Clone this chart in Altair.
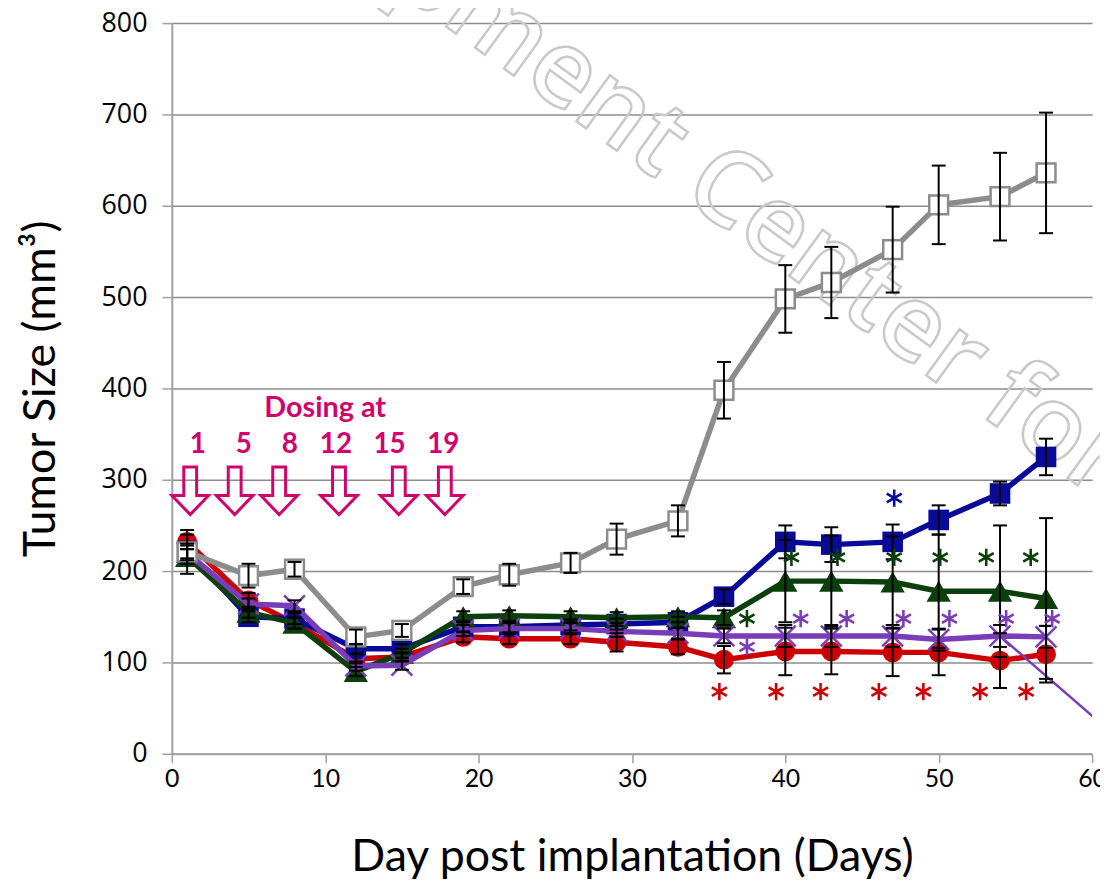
import altair as alt
import pandas as pd

# ---------------- data ----------------
days = [1, 5, 8, 12, 15, 19, 22, 26, 29, 33, 36, 40, 43, 47, 50, 54, 57]

gray_vals = [221, 195, 202, 128, 135, 183, 196, 209, 235, 255, 398, 498, 516, 552, 601, 610, 636]
gray_err = [24, 13, 8, 8, 7, 8, 12, 11, 17, 17, 31, 37, 39, 47, 43, 48, 66]

blue_vals = [222, 150, 148, 115, 115, 139, 139, 141, 142, 144, 172, 232, 229, 232, 256, 285, 325]
blue_err = [8, 6, 6, 5, 5, 6, 6, 6, 6, 6, 8, 18, 19, 19, 16, 13, 20]

green_vals = [216, 155, 143, 90, 110, 150, 151, 150, 149, 150, 149, 189, 189, 188, 178, 178, 170]
green_err = [8, 6, 6, 5, 5, 6, 6, 6, 6, 6, 8, 45, 50, 50, 62, 72, 88]

purple_vals = [220, 164, 162, 96, 97, 135, 137, 137, 134, 132, 129, 129, 129, 129, 125, 129, 128]
purple_err = [8, 6, 6, 5, 5, 6, 6, 6, 6, 6, 8, 12, 12, 12, 12, 12, 12]

red_vals = [232, 168, 143, 104, 106, 128, 126, 126, 122, 117, 103, 112, 112, 111, 111, 102, 109]
red_err = [8, 8, 6, 5, 5, 6, 6, 6, 10, 8, 15, 26, 25, 26, 25, 30, 31]

# stray purple line leaving the last purple points
purple_tail_days = [54, 61]
purple_tail_vals = [129, 27]

# significance asterisks
red_star_days = [35.7, 39.4, 42.3, 46.1, 49.0, 52.7, 55.7]
red_star_vals = [68, 68, 68, 68, 68, 68, 68]
green_star_days = [37.5, 40.4, 43.4, 47.1, 50.1, 53.1, 56.0]
green_star_vals = [148, 215, 215, 215, 215, 215, 215]
purple_star_days = [37.5, 41.0, 44.0, 47.7, 50.7, 54.4, 57.4]
purple_star_vals = [117, 148, 148, 148, 148, 148, 148]
blue_star_days = [47.1]
blue_star_vals = [280]

# dosing annotation
dose_labels = ["1", "5", "8", "12", "15", "19"]
dose_label_days = [1.7, 4.7, 7.7, 10.7, 14.2, 17.7]
dose_label_val = 338
dose_arrow_days = [1.2, 4.1, 7.0, 10.9, 14.8, 17.8]
dose_arrow_val = 288
dose_title = "Dosing at"
dose_title_day = 10.0
dose_title_val = 379

watermark_text = "pment Center for"

# ---------------- styles ----------------
GRAY = "#8c8c8c"
BLUE = "#0a0a98"
GREEN = "#0b3f0b"
PURPLE = "#7a3db8"
RED = "#cc0000"
MAGENTA = "#d2006c"
AXIS_GRAY = "#a0a0a0"

series_info = [
    ("red", red_vals, red_err),
    ("blue", blue_vals, blue_err),
    ("green", green_vals, green_err),
    ("purple", purple_vals, purple_err),
    ("gray", gray_vals, gray_err),
]

rows = []
for name, vals, errs in series_info:
    for d, v, e in zip(days, vals, errs):
        rows.append({"series": name, "day": d, "value": v, "lo": v - e, "hi": v + e})
df = pd.DataFrame(rows)

x_scale = alt.Scale(domain=[0, 60], nice=False, zero=False)
y_scale = alt.Scale(domain=[0, 800], nice=False)

x_axis = alt.Axis(
    values=list(range(0, 61, 10)), title="Day post implantation (Days)",
    titleFont="Lato", titleFontSize=45, titleFontWeight="normal", titleColor="black",
    titlePadding=44, labelFont="Lato", labelFontSize=25, labelColor="black",
    labelPadding=4, labelFlush=False, tickSize=9, tickColor=AXIS_GRAY, tickWidth=1.5,
    domainColor=AXIS_GRAY, domainWidth=2, grid=False,
)
y_axis = alt.Axis(
    values=list(range(0, 801, 100)), title="Tumor Size (mm³)",
    titleFont="Lato", titleFontSize=45, titleFontWeight="normal", titleColor="black",
    titlePadding=38, labelFont="Open Sans", labelFontSize=27, labelColor="black",
    labelPadding=15, tickSize=10, tickColor=AXIS_GRAY, tickWidth=1.5,
    domainColor=AXIS_GRAY, domainWidth=2, grid=True, gridColor="#8c8c8c", gridWidth=1.5,
)

def X(field="day"):
    return alt.X(f"{field}:Q", scale=x_scale, axis=x_axis)

def Y(field="value"):
    return alt.Y(f"{field}:Q", scale=y_scale, axis=y_axis)

layers = []

# watermark (behind everything)
wm = alt.Chart(pd.DataFrame({"t": [watermark_text]})).mark_text(
    angle=36, align="left", baseline="middle", font="Open Sans", fontSize=106,
    fontWeight=600, fillOpacity=0, stroke="#c9c9c9", strokeWidth=2.5,
).encode(x=alt.datum(15.2, scale=x_scale, axis=x_axis), y=alt.datum(872, scale=y_scale, axis=y_axis), text="t:N")
layers.append(wm)

marker_specs = {
    "red": dict(shape="circle", filled=True, color=RED, size=400),
    "blue": dict(shape="square", filled=True, color=BLUE, size=430),
    "green": dict(shape="triangle-up", filled=True, color=GREEN, size=600),
    "purple": dict(shape="M-1,-1L1,1M-1,1L1,-1", filled=False, color=PURPLE, size=440, strokeWidth=2.5),
    "gray": dict(shape="square", filled=True, fill="white", stroke=GRAY, strokeWidth=2.5, size=360),
}
line_colors = {"red": RED, "blue": BLUE, "green": GREEN, "purple": PURPLE, "gray": GRAY}

tail_df = pd.DataFrame({"day": purple_tail_days, "value": purple_tail_vals})
for name, _, _ in series_info:
    sub = df[df.series == name]
    layers.append(alt.Chart(sub).mark_line(color=line_colors[name], strokeWidth=5.5).encode(x=X(), y=Y()))
    if name == "purple":
        layers.append(alt.Chart(tail_df).mark_line(color=PURPLE, strokeWidth=2.5, clip=True).encode(x=X(), y=Y()))
    layers.append(alt.Chart(sub).mark_point(opacity=1, **marker_specs[name]).encode(x=X(), y=Y()))

# error bars
layers.append(alt.Chart(df).mark_rule(color="black", strokeWidth=2).encode(
    x=X(), y=Y("lo"), y2="hi:Q"))
for col in ["lo", "hi"]:
    layers.append(alt.Chart(df).mark_point(
        shape="M-1,0L1,0", filled=False, color="black", strokeWidth=2, size=196, opacity=1
    ).encode(x=X(), y=Y(col)))

# asterisks
STAR = "M0,-1L0,1M-0.87,-0.5L0.87,0.5M-0.87,0.5L0.87,-0.5"
for sd, sv, col in [
    (red_star_days, red_star_vals, RED),
    (green_star_days, green_star_vals, GREEN),
    (purple_star_days, purple_star_vals, PURPLE),
    (blue_star_days, blue_star_vals, BLUE),
]:
    sdf = pd.DataFrame({"day": sd, "value": sv})
    layers.append(alt.Chart(sdf).mark_point(
        shape=STAR, filled=False, color=col, strokeWidth=2.6, size=300, opacity=1
    ).encode(x=X(), y=Y()))

# dosing annotation
ARROW = "M-0.27,-1L0.27,-1L0.27,0.2L0.77,0.2L0,1L-0.77,0.2L-0.27,0.2Z"
arrow_df = pd.DataFrame({"day": dose_arrow_days, "value": [dose_arrow_val] * len(dose_arrow_days)})
layers.append(alt.Chart(arrow_df).mark_point(
    shape=ARROW, filled=False, color=MAGENTA, strokeWidth=3, size=2304, opacity=1
).encode(x=X(), y=Y()))
lab_df = pd.DataFrame({"day": dose_label_days, "value": [dose_label_val] * len(dose_labels), "t": dose_labels})
layers.append(alt.Chart(lab_df).mark_text(
    font="Lato", fontSize=28, fontWeight="bold", color=MAGENTA, baseline="middle"
).encode(x=X(), y=Y(), text="t:N"))
title_df = pd.DataFrame({"day": [dose_title_day], "value": [dose_title_val], "t": [dose_title]})
layers.append(alt.Chart(title_df).mark_text(
    font="Lato", fontSize=29, fontWeight="bold", color=MAGENTA, baseline="middle"
).encode(x=X(), y=Y(), text="t:N"))

chart = alt.layer(*layers).properties(
    width=927, height=736,
    autosize=alt.AutoSizeParams(type="none"),
    padding={"left": 165, "top": 12, "right": 8, "bottom": 132},
).configure_view(stroke=None)

chart.save("out.html", embed_options={"renderer": "svg", "actions": False})
